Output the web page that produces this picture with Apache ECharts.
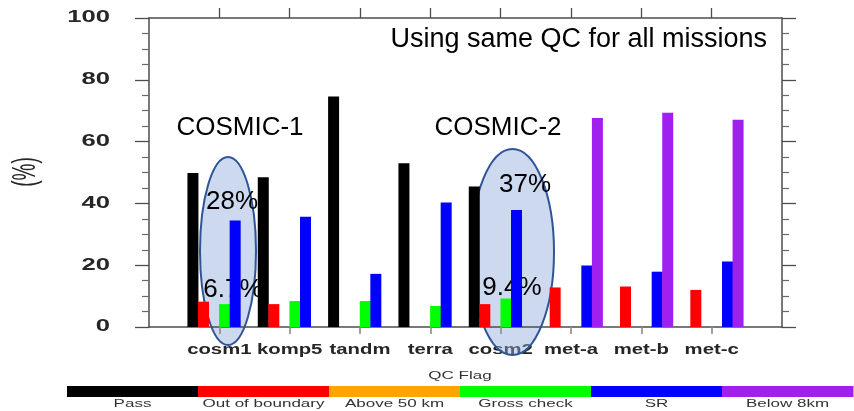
<!DOCTYPE html>
<html>
<head>
<meta charset="utf-8">
<script src="https://cdn.jsdelivr.net/npm/echarts@6/dist/echarts.min.js"></script>
<style>
  html, body { margin: 0; padding: 0; background: #ffffff; }
  #chart { width: 854px; height: 411px; }
</style>
</head>
<body>
<div id="chart"></div>
<script>
// Missions on the x axis (placed at positions 1..8 of a 0..9 axis)
const missions = ['cosm1', 'komp5', 'tandm', 'terra', 'cosm2', 'met-a', 'met-b', 'met-c'];

// QC flag classes and their colours
const flagNames = ['Pass', 'Out of boundary', 'Above 50 km', 'Gross check', 'SR', 'Below 8km'];
const flagColors = ['#000000', '#ff0000', '#ffa500', '#00ff00', '#0000ff', '#a020f0'];

// Percentage of profiles per QC flag, one value per mission
const passPct          = [49.8, 48.5, 74.6, 53.0, 45.5, 0, 0, 0];
const outOfBoundaryPct = [8.2, 7.4, 0, 0, 7.4, 12.8, 13.1, 12.0];
const above50kmPct     = [0, 0, 0, 0, 0, 0, 0, 0];
const grossCheckPct    = [7.4, 8.4, 8.4, 6.8, 9.2, 0, 0, 0];
const srPct            = [34.5, 35.7, 17.2, 40.3, 37.9, 19.9, 17.9, 21.2];
const below8kmPct      = [0, 0, 0, 0, 0, 67.6, 69.3, 67.1];

// Y axis tick labels
const yTicks = [0, 20, 40, 60, 80, 100];

const seriesValues = [passPct, outOfBoundaryPct, above50kmPct, grossCheckPct, srPct, below8kmPct];
const missionPos = missions.map((m, i) => i + 1);

const W = 854, H = 411;
const GRID = { left: 149, right: 72, top: 18, bottom: 84 };
const FONT = '"Liberation Sans", Arial, Helvetica, sans-serif';

const chart = echarts.init(document.getElementById('chart'), null, { renderer: 'canvas' });

const frameLine = { show: true, onZero: false, lineStyle: { color: '#4d4d4d', width: 1.5 } };

function yAxisDef(position) {
  return {
    type: 'value', position: position, min: 0, max: 100, interval: 20,
    axisLine: frameLine,
    axisTick: { show: true, length: 14, lineStyle: { color: '#4d4d4d', width: 1.3 } },
    minorTick: { show: true, splitNumber: 4, length: 7, lineStyle: { color: '#6a6a6a', width: 1.2 } },
    axisLabel: { show: false },
    splitLine: { show: false }
  };
}

chart.setOption({
  animation: false,
  grid: GRID,
  xAxis: [
    {
      type: 'value', position: 'bottom', min: 0, max: missions.length + 1, interval: 1,
      axisLine: frameLine,
      axisTick: { show: true, customValues: missionPos, length: 7, lineStyle: { color: '#8c8c8c', width: 1.6 } },
      axisLabel: { show: false },
      splitLine: { show: false }
    },
    {
      type: 'value', position: 'top', min: 0, max: missions.length + 1, interval: 1,
      axisLine: frameLine,
      axisTick: { show: true, customValues: missionPos, length: 10, lineStyle: { color: '#4d4d4d', width: 1.3 } },
      axisLabel: { show: false },
      splitLine: { show: false }
    }
  ],
  yAxis: [yAxisDef('left'), yAxisDef('right')],
  series: seriesValues.map((vals, i) => ({
    type: 'bar',
    name: flagNames[i],
    xAxisIndex: 0,
    yAxisIndex: 0,
    barWidth: 11,
    barGap: '-4%',
    silent: true,
    itemStyle: { color: flagColors[i] },
    data: vals.map((v, k) => [missionPos[k], v])
  }))
});

// Pixel helpers through the chart's own scales
const px = v => chart.convertToPixel({ xAxisIndex: 0 }, v);
const py = v => chart.convertToPixel({ yAxisIndex: 0 }, v);

const elements = [];

// Y tick labels (wide plotting-style lettering)
yTicks.forEach(v => {
  elements.push({
    type: 'text', x: GRID.left - 39, y: py(v), scaleX: 1.6, silent: true,
    style: { text: String(v), font: 'bold 16px ' + FONT, fill: '#262626', align: 'right', verticalAlign: 'middle' }
  });
});

// Y axis title
elements.push({
  type: 'text', x: 26, y: 172, rotation: Math.PI / 2, scaleY: 1.7, silent: true,
  style: { text: '(%)', font: '19px ' + FONT, fill: '#262626', align: 'center', verticalAlign: 'middle' }
});

// Mission labels under the ticks
missions.forEach((m, i) => {
  elements.push({
    type: 'text', x: px(missionPos[i]), y: H - GRID.bottom + 23, scaleX: 1.45, silent: true,
    style: { text: m, font: 'bold 14px ' + FONT, fill: '#262626', align: 'center', verticalAlign: 'middle' }
  });
});

// QC flag colour bar
const barL = 67, barR = 853, barT = 386, barB = 397;
const segW = (barR - barL) / flagNames.length;
elements.push({
  type: 'text', x: (barL + barR) / 2, y: 376, scaleX: 1.7, silent: true,
  style: { text: 'QC Flag', font: '10px ' + FONT, fill: '#333333', align: 'center', verticalAlign: 'middle' }
});
flagNames.forEach((name, i) => {
  elements.push({
    type: 'rect', silent: true,
    shape: { x: barL + i * segW, y: barT, width: segW + 0.5, height: barB - barT },
    style: { fill: flagColors[i] }
  });
  elements.push({
    type: 'text', x: barL + (i + 0.5) * segW, y: 404.5, scaleX: 1.7, silent: true,
    style: { text: name, font: '10px ' + FONT, fill: '#333333', align: 'center', verticalAlign: 'middle' }
  });
});

// Highlight ellipses around the two COSMIC missions
const ellipseStyle = { fill: 'rgba(143,170,220,0.45)', stroke: '#2f5597', lineWidth: 2 };
elements.push({ type: 'ellipse', silent: true, shape: { cx: 228, cy: 251, rx: 28, ry: 94 }, style: ellipseStyle });
elements.push({ type: 'ellipse', silent: true, shape: { cx: 512.5, cy: 252, rx: 41.5, ry: 103 }, style: ellipseStyle });

// Annotation texts
function note(text, x, y, size, align) {
  elements.push({
    type: 'text', x: x, y: y, silent: true,
    style: { text: text, font: size + 'px ' + FONT, fill: '#000000', align: align || 'center', verticalAlign: 'middle' }
  });
}
note('Using same QC for all missions', 767, 40, 27, 'right');
note('COSMIC-1', 240, 128, 26);
note('COSMIC-2', 498, 128, 26);
note('28%', 232, 202, 26);
note('6.7%', 233, 290, 26);
note('37%', 525, 185, 26);
note('9.4%', 512, 288, 26);

chart.setOption({ graphic: { elements: elements } });
</script>
</body>
</html>
